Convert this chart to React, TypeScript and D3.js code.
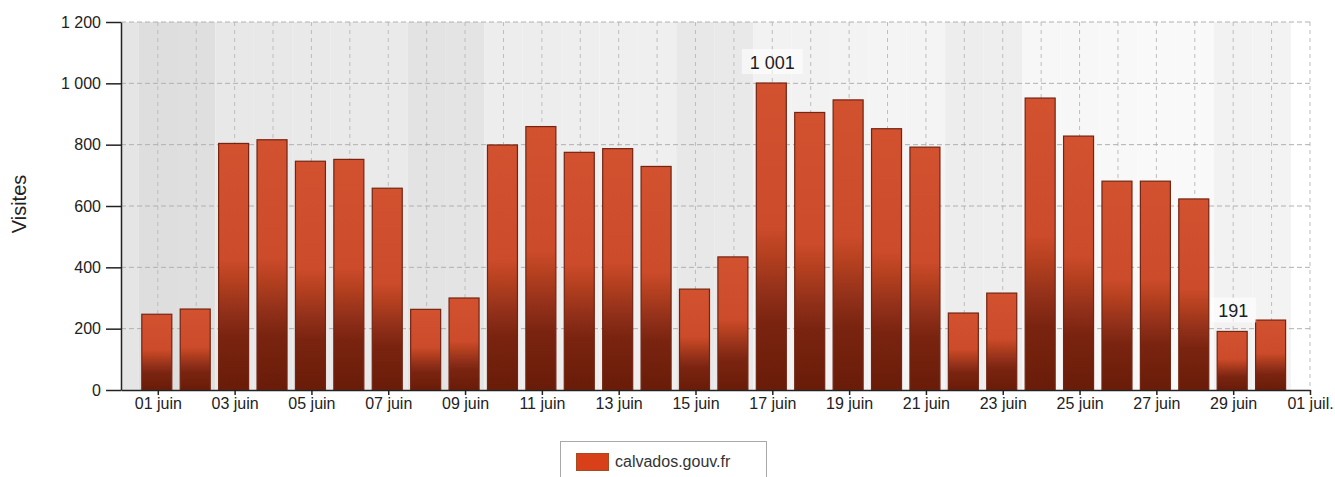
import React, { useEffect, useRef } from 'react';
import * as d3 from 'd3';

// visites quotidiennes, juin 2019
const visits = [247, 264, 804, 816, 746, 752, 658, 263, 300, 799, 859, 775, 787, 729, 329, 434, 1001, 905, 946, 852, 792, 251, 316, 952, 828, 681, 681, 623, 191, 228];
const yTicks = [0, 200, 400, 600, 800, 1000, 1200];
const seriesName = 'calvados.gouv.fr';
const yTitle = 'Visites';
const monthsShort = ['janv.', 'févr.', 'mars', 'avr.', 'mai', 'juin', 'juil.', 'août', 'sept.', 'oct.', 'nov.', 'déc.'];

const FONT = '"Liberation Sans", Arial, sans-serif';

const numFr = d3.formatLocale({ decimal: ',', thousands: ' ', grouping: [3], currency: ['', ' €'] });
const fmt = numFr.format(',d');
const fmtDay = (d: Date) => `${d3.utcFormat('%d')(d)} ${monthsShort[d.getUTCMonth()]}`;

const App: React.FC = () => {
  const svgRef = useRef<SVGSVGElement>(null);

  useEffect(() => {
    if (!svgRef.current) return;
    const svg = d3.select(svgRef.current);
    svg.selectAll('*').remove();

    const W = 1335, H = 477;
    const left = 121, right = 1310, top = 22, bottom = 390;

    const june1 = new Date(Date.UTC(2019, 5, 1));
    const july1 = new Date(Date.UTC(2019, 6, 1));
    const days = d3.utcDay.range(june1, july1);
    const data = days.map((d, i) => ({ date: d, value: visits[i] }));

    const x = d3.scaleUtc()
      .domain([new Date(Date.UTC(2019, 4, 31, 1)), july1])
      .range([left, right]);
    const y = d3.scaleLinear().domain([0, 1200]).range([bottom, top]);
    const dayW = x(july1) - x(d3.utcDay.offset(july1, -1));

    svg.attr('width', W).attr('height', H);

    // gradient for bars
    const defs = svg.append('defs');
    const grad = defs.append('linearGradient')
      .attr('id', 'barGrad').attr('x1', 0).attr('y1', 0).attr('x2', 0).attr('y2', 1);
    [
      [0, '#d2512f'], [0.47, '#cc4b2b'], [0.56, '#b4401f'], [0.68, '#92301a'],
      [0.78, '#7a2410'], [1, '#691c08'],
    ].forEach(([o, c]) => grad.append('stop').attr('offset', o as number).attr('stop-color', c as string));

    // background bands (weekends darker, lighter to the right)
    const shade = d3.scaleLinear().domain([left, right]).range([229.5, 251.5]);
    const bgDays = d3.utcDay.range(new Date(Date.UTC(2019, 4, 31)), july1);
    svg.append('g').selectAll('rect')
      .data(bgDays)
      .enter()
      .append('rect')
      .attr('x', (d: Date) => Math.max(left, x(d) - dayW / 2))
      .attr('width', (d: Date) => Math.min(right, x(d) + dayW / 2) - Math.max(left, x(d) - dayW / 2))
      .attr('y', top)
      .attr('height', bottom - top)
      .attr('fill', (d: Date) => {
        const wd = d.getUTCDay();
        let g = shade(x(d));
        if (wd === 0 || wd === 6) g -= 8;
        g = Math.round(g);
        return d3.rgb(g, g, g).toString();
      });

    // grid
    const grid = svg.append('g');
    grid.selectAll('line.v')
      .data(d3.utcDay.range(june1, d3.utcDay.offset(july1, 1)))
      .enter()
      .append('line')
      .attr('x1', (d: Date) => x(d)).attr('x2', (d: Date) => x(d))
      .attr('y1', top).attr('y2', bottom)
      .attr('stroke', '#bdbdbd').attr('stroke-dasharray', '4,4');
    grid.selectAll('line.h')
      .data(yTicks.filter(t => t > 0))
      .enter()
      .append('line')
      .attr('x1', left).attr('x2', right)
      .attr('y1', (d: number) => y(d)).attr('y2', (d: number) => y(d))
      .attr('stroke', '#b0b0b0').attr('stroke-dasharray', '5,3');

    // bars
    const barW = 30;
    svg.append('g').selectAll('rect')
      .data(data)
      .enter()
      .append('rect')
      .attr('x', d => x(d.date) - barW / 2 - 1)
      .attr('y', d => y(d.value))
      .attr('width', barW)
      .attr('height', d => bottom - y(d.value))
      .attr('fill', 'url(#barGrad)')
      .attr('stroke', '#742411')
      .attr('stroke-width', 1.2);

    // axes
    const yAxis = svg.append('g')
      .attr('transform', `translate(${left},0)`)
      .call(d3.axisLeft(y).tickValues(yTicks).tickSize(15).tickSizeOuter(0).tickPadding(5).tickFormat((d: any) => fmt(d)));
    const xAxis = svg.append('g')
      .attr('transform', `translate(0,${bottom})`)
      .call(d3.axisBottom(x)
        .tickValues(d3.utcDay.every(2)!.range(june1, d3.utcDay.offset(july1, 1)))
        .tickSize(5).tickSizeOuter(0).tickPadding(3)
        .tickFormat((d: any) => fmtDay(d)));
    [yAxis, xAxis].forEach(a => {
      a.select('.domain').attr('stroke', '#222').attr('stroke-width', 1.5);
      a.selectAll('.tick line').attr('stroke', '#222').attr('stroke-width', 1.5);
      a.selectAll('.tick text').attr('fill', '#222').style('font-family', FONT).style('font-size', '16px');
    });

    // y title
    svg.append('text')
      .attr('transform', 'translate(26,204) rotate(-90)')
      .attr('text-anchor', 'middle')
      .style('font-family', FONT).style('font-size', '20px')
      .attr('fill', '#222')
      .text(yTitle);

    // min / max labels
    const maxD = data.reduce((a, b) => (b.value > a.value ? b : a));
    const minD = data.reduce((a, b) => (b.value < a.value ? b : a));
    [maxD, minD].forEach(d => {
      const cx = x(d.date);
      const ty = y(d.value) - 14;
      const g = svg.append('g');
      const box = g.append('rect').attr('fill', 'rgba(255,255,255,0.6)');
      const t = g.append('text')
        .attr('x', cx).attr('y', ty)
        .attr('text-anchor', 'middle')
        .style('font-family', FONT).style('font-size', '18px')
        .attr('fill', '#1c1c24')
        .text(fmt(d.value));
      const tw = (t.node() as SVGTextElement).getComputedTextLength();
      box.attr('x', cx - tw / 2 - 8).attr('width', tw + 16)
        .attr('y', ty - 20).attr('height', 25);
    });

    // legend
    const lg = svg.append('g');
    lg.append('rect')
      .attr('x', 560.5).attr('y', 441.5).attr('width', 206).attr('height', 50)
      .attr('fill', '#fff').attr('stroke', '#a8a8a8');
    lg.append('rect')
      .attr('x', 576.5).attr('y', 453.5).attr('width', 32).attr('height', 17)
      .attr('fill', '#d8401a').attr('stroke', '#a84a20');
    lg.append('text')
      .attr('x', 615).attr('y', 467)
      .style('font-family', FONT).style('font-size', '16px')
      .attr('fill', '#333')
      .text(seriesName);
  }, []);

  return (
    <svg ref={svgRef} style={{ position: 'absolute', left: 0, top: 0, background: '#fff' }} />
  );
};

export default App;
